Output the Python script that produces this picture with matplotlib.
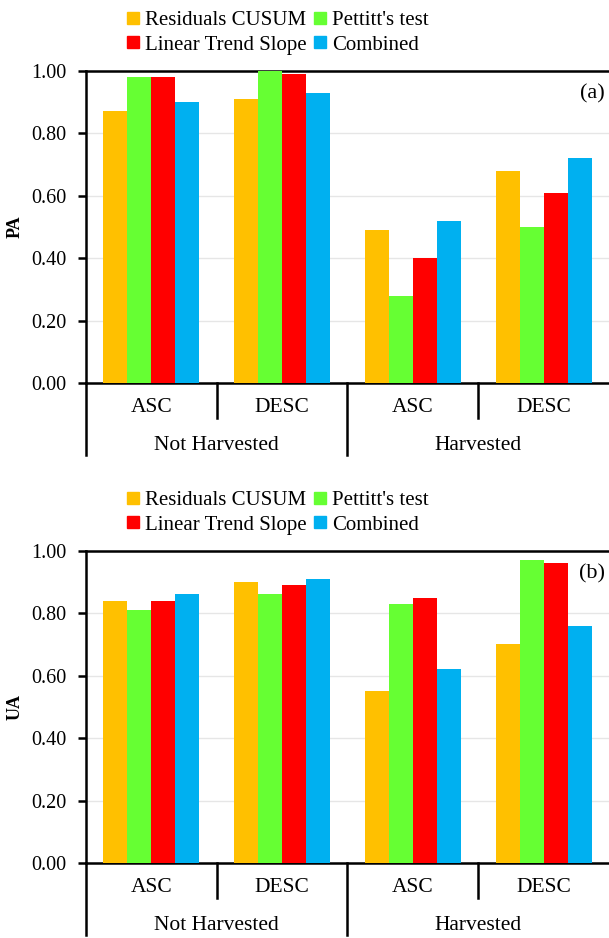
import matplotlib.pyplot as plt
import numpy as np
from matplotlib.lines import Line2D

plt.rcParams['font.family'] = ['Liberation Serif', 'DejaVu Serif']

groups = ['ASC', 'DESC', 'ASC', 'DESC']
outer = ['Not Harvested', 'Harvested']
methods = ['Residuals CUSUM', "Pettitt's test", 'Linear Trend Slope', 'Combined']
colors = ['#FFC000', '#66FF33', '#FF0000', '#00B0F0']

# PA values, one list per method (NH ASC, NH DESC, H ASC, H DESC)
pa_cusum = [0.87, 0.91, 0.49, 0.68]
pa_pettitt = [0.98, 1.00, 0.28, 0.50]
pa_lts = [0.98, 0.99, 0.40, 0.61]
pa_comb = [0.90, 0.93, 0.52, 0.72]

# UA values
ua_cusum = [0.84, 0.90, 0.55, 0.70]
ua_pettitt = [0.81, 0.86, 0.83, 0.97]
ua_lts = [0.84, 0.89, 0.85, 0.96]
ua_comb = [0.86, 0.91, 0.62, 0.76]

fig = plt.figure(figsize=(6.09, 9.38), dpi=100)


def panel(rect, series, ylabel, tag, leg_y):
    ax = fig.add_axes(rect)
    x = np.arange(len(groups))
    w = 0.184
    for i, vals in enumerate(series):
        ax.bar(x + (i - 1.5) * w, vals, w, color=colors[i], zorder=3)
    ax.set_xlim(-0.5, 3.5)
    ax.set_ylim(0, 1)
    ticks = np.arange(0, 1.01, 0.2)
    ax.set_yticks(ticks)
    ax.set_yticklabels(['%.2f' % v for v in ticks], fontsize=14.5)
    ax.tick_params(axis='y', length=6, width=1.8, direction='out', pad=8)
    ax.set_xticks([])
    ax.grid(axis='y', color='#e6e6e6', linewidth=1, zorder=0)
    for s in ['top', 'left', 'bottom']:
        ax.spines[s].set_linewidth(1.8)
    ax.spines['right'].set_visible(False)
    ax.set_ylabel(ylabel, fontsize=13, fontweight='bold')
    ax.yaxis.set_label_coords(-0.12, 0.5)
    ax.text(0.992, 0.925, tag, transform=ax.transAxes, ha='right', va='center', fontsize=16)

    tr = ax.get_xaxis_transform()
    for xs in [0.5, 2.5]:
        ax.plot([xs, xs], [0, -0.112], transform=tr, color='black', lw=1.8, clip_on=False)
    for xs in [-0.5, 1.5]:
        ax.plot([xs, xs], [0, -0.231], transform=tr, color='black', lw=1.8, clip_on=False)
    for i, g in enumerate(groups):
        ax.text(i, -0.077, g, transform=tr, ha='center', va='center', fontsize=15.5)
    for i, g in enumerate(outer):
        ax.text(0.5 + 2 * i, -0.199, g, transform=tr, ha='center', va='center', fontsize=15.5)

    # legend filled column by column: CUSUM/LTS then Pettitt/Combined
    order = [0, 2, 1, 3]
    handles = [Line2D([], [], marker='s', linestyle='none', markersize=8,
                      markerfacecolor=colors[k], markeredgecolor=colors[k]) for k in order]
    fig.legend(handles, [methods[k] for k in order], loc='upper left',
               bbox_to_anchor=(0.208, leg_y), ncol=2, frameon=False, fontsize=15,
               handlelength=0.6, handletextpad=0.3, columnspacing=0.3,
               labelspacing=0.25, borderaxespad=0, borderpad=0)
    return ax


panel([0.1412, 0.5917, 0.8588, 0.3329],
      [pa_cusum, pa_pettitt, pa_lts, pa_comb], 'PA', '(a)', 0.989)
panel([0.1412, 0.0800, 0.8588, 0.3329],
      [ua_cusum, ua_pettitt, ua_lts, ua_comb], 'UA', '(b)', 0.989 - 0.5117)

fig.savefig('out.png', dpi=100)
